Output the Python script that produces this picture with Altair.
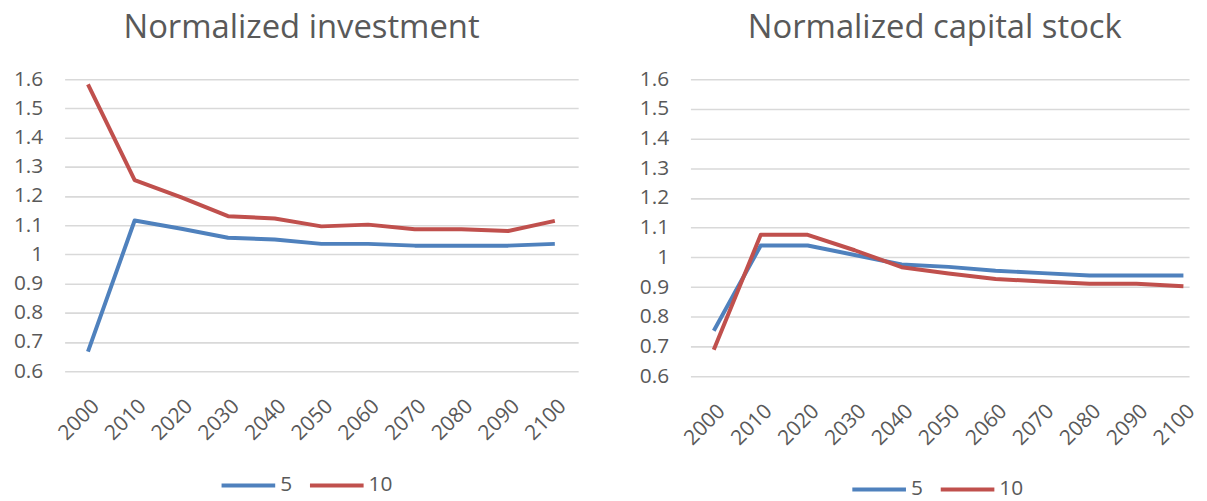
import altair as alt
import pandas as pd

years = ["2000", "2010", "2020", "2030", "2040", "2050", "2060", "2070", "2080", "2090", "2100"]
series = ["5", "10"]
inv_5 = [0.667, 1.116, 1.088, 1.057, 1.051, 1.036, 1.036, 1.030, 1.030, 1.030, 1.036]
inv_10 = [1.582, 1.254, 1.195, 1.131, 1.123, 1.096, 1.102, 1.086, 1.086, 1.080, 1.115]
cap_5 = [0.753, 1.040, 1.040, 1.008, 0.976, 0.968, 0.955, 0.947, 0.939, 0.939, 0.939]
cap_10 = [0.689, 1.076, 1.076, 1.024, 0.967, 0.946, 0.927, 0.919, 0.911, 0.911, 0.903]
y_ticks = [0.6, 0.7, 0.8, 0.9, 1.0, 1.1, 1.2, 1.3, 1.4, 1.5, 1.6]
colors = ["#4f81bd", "#c0504d"]

FONT = "Open Sans"
GREY = "#595959"
LEGEND_LINE = "M-2.7,0H2.7"


def long_df(a, b):
    rows = []
    for s, vals in zip(series, [a, b]):
        for yr, v in zip(years, vals):
            rows.append({"year": yr, "series": s, "value": v})
    return pd.DataFrame(rows)


def panel(df, title, title_dx, width, height, xscale, legend_x, legend_y):
    return alt.Chart(df).mark_line(strokeWidth=4, strokeJoin="round").encode(
        x=alt.X("year:O", sort=years, scale=xscale,
                axis=alt.Axis(title=None, labelAngle=315, labelFontSize=21, labelFont=FONT,
                              labelColor=GREY, ticks=False, domain=False, grid=False,
                              labelPadding=24)),
        y=alt.Y("value:Q",
                scale=alt.Scale(domain=[0.6, 1.6], nice=False, zero=False),
                axis=alt.Axis(title=None, values=y_ticks, format=".1~f", labelFontSize=21,
                              labelFont=FONT, labelColor=GREY, ticks=False, domain=False,
                              grid=True, gridColor="#d9d9d9", gridWidth=1.6, labelPadding=22)),
        color=alt.Color("series:N", sort=series,
                        scale=alt.Scale(domain=series, range=colors),
                        legend=alt.Legend(orient="none", legendX=legend_x, legendY=legend_y,
                                          direction="horizontal", title=None,
                                          symbolType=LEGEND_LINE, symbolSize=400,
                                          symbolStrokeWidth=4, labelFontSize=21,
                                          labelFont=FONT, labelColor=GREY, columnPadding=9,
                                          labelOffset=20, padding=0)),
    ).properties(
        width=width, height=height,
        title=alt.TitleParams(title, fontSize=33, font=FONT, color=GREY, fontWeight="normal",
                              anchor="middle", baseline="alphabetic", offset=-3, dx=title_dx),
    )


left = panel(long_df(inv_5, inv_10), "Normalized investment", -20, 517, 294,
             alt.Scale(type="point", padding=0.5), 173, 397)
right = panel(long_df(cap_5, cap_10), "Normalized capital stock", -5, 502, 299,
              alt.Scale(type="point", padding=0.309, align=0.805), 178, 401)

chart = alt.hconcat(left, right, spacing=61).resolve_scale(color="independent").resolve_legend(
    color="independent"
).properties(
    padding={"left": 5, "top": 3, "right": 0, "bottom": 0}
).configure_view(stroke=None)

chart.save("out.html", embed_options={"renderer": "svg", "actions": False})
